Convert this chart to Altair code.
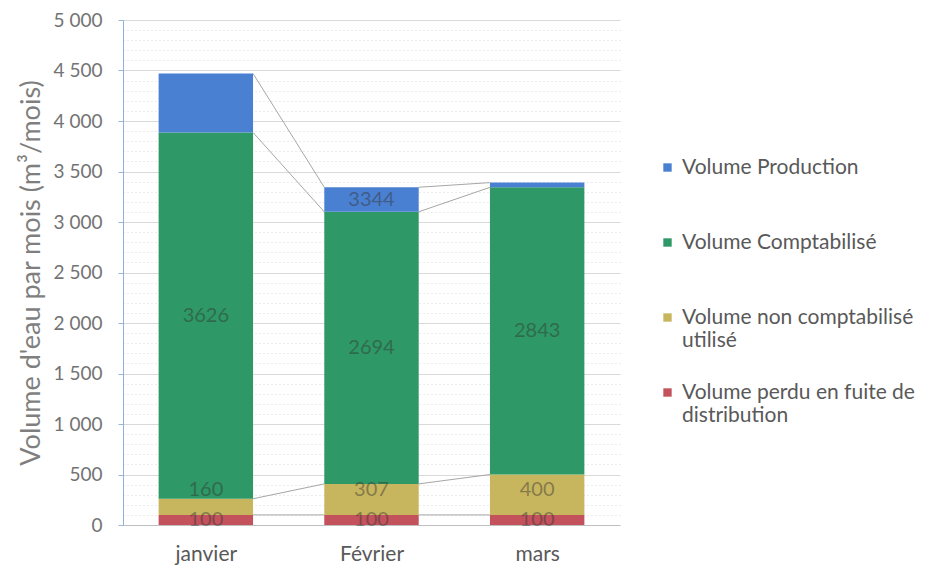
import json
import altair as alt
import pandas as pd

months = ["janvier", "Février", "mars"]
perdu = [100, 100, 100]
non_compta = [160, 307, 400]
compta = [3626, 2694, 2843]
production = [4470, 3344, 3390]
production_labels = ["", "3344", ""]

series = [
    "Volume Production",
    "Volume Comptabilisé",
    "Volume non comptabilisé|utilisé",
    "Volume perdu en fuite de|distribution",
]
colors = ["#4a80d2", "#2e9966", "#c8b65e", "#c4525c"]

half = 0.285
rows = []
tops = {s: [] for s in series}
for i, m in enumerate(months):
    base = 0
    for s, v in [(series[3], perdu[i]), (series[2], non_compta[i]), (series[1], compta[i])]:
        ylab = base + v / 2
        if s == series[2]:
            ylab = max(ylab, base + 250)
        rows.append(dict(series=s, x0=i - half, x1=i + half, y0=base, y1=base + v,
                         ymid=ylab, label=str(v), xc=i))
        base += v
        tops[s].append(base)
    rows.append(dict(series=series[0], x0=i - half, x1=i + half, y0=base, y1=production[i],
                     ymid=(base + production[i]) / 2, label=production_labels[i], xc=i))
    tops[series[0]].append(production[i])
df = pd.DataFrame(rows)

lines = []
for s in series:
    for i in range(len(months) - 1):
        lines.append(dict(series=s, x=i + half, x2=i + 1 - half, y=tops[s][i], y2=tops[s][i + 1]))
ldf = pd.DataFrame(lines)

FONT = "Lato"
xscale = alt.Scale(domain=[-0.5, len(months) - 0.5], nice=False, zero=False)
yscale = alt.Scale(domain=[0, 5000], nice=False)

month_expr = json.dumps(months, ensure_ascii=False) + "[datum.value]"

xaxis = alt.Axis(values=list(range(len(months))), labelExpr=month_expr, title=None,
                 ticks=False, grid=False, labelFontSize=21, labelColor="#595959",
                 labelPadding=18, domainColor="#bfbfbf", labelFont=FONT)
yaxis = alt.Axis(
    values=list(range(0, 5001, 100)),
    labelExpr="datum.value % 500 === 0 ? replace(format(datum.value, ','), ',', ' ') : ''",
    labelOverlap=False,
    title="Volume d'eau par mois (m³/mois)",
    titleFontSize=27, titleColor="#7f7f7f", titleFontWeight="normal", titleFont=FONT,
    titlePadding=8,
    labelFontSize=19, labelColor="#737373", labelFont=FONT, labelPadding=16,
    tickSize=5, tickColor="#9db4d2",
    tickOpacity={"condition": {"test": "datum.value % 500 === 0", "value": 1}, "value": 0},
    domainColor="#8eb1dc",
    grid=True, gridColor="#d9d9d9",
    gridDash={"condition": {"test": "datum.value % 500 === 0", "value": []}, "value": [1, 3]},
)

bars = alt.Chart(df).mark_bar().encode(
    x=alt.X("x0:Q", scale=xscale, axis=xaxis),
    x2="x1:Q",
    y=alt.Y("y0:Q", scale=yscale, axis=yaxis),
    y2="y1:Q",
    color=alt.Color("series:N", scale=alt.Scale(domain=series, range=colors),
                    legend=alt.Legend(
                        title=None, orient="none", legendX=534, legendY=137,
                        symbolType="square", symbolSize=70, symbolStrokeWidth=0,
                        labelFontSize=21, labelColor="#595959", labelFont=FONT,
                        labelExpr="split(datum.label, '|')",
                        labelLimit=400, rowPadding=30, gridAlign="all", labelOffset=4)),
)

seg = alt.Chart(ldf).mark_rule(color="#a6a6a6", strokeWidth=1).encode(
    x=alt.X("x:Q", scale=xscale, axis=xaxis), x2="x2:Q",
    y=alt.Y("y:Q", scale=yscale, axis=yaxis), y2="y2:Q",
)

text = alt.Chart(df).mark_text(fontSize=20, font=FONT, color="#333333", opacity=0.45).encode(
    x=alt.X("xc:Q", scale=xscale, axis=xaxis),
    y=alt.Y("ymid:Q", scale=yscale, axis=yaxis),
    text="label:N",
)

chart = alt.layer(seg, bars, text).properties(
    width=497, height=505,
    background="white",
    autosize=alt.AutoSizeParams(type="none"),
    padding={"left": 115, "top": 12, "right": 305, "bottom": 41},
).configure_view(stroke=None)

chart.save("out.html", embed_options={"renderer": "svg", "actions": False})
